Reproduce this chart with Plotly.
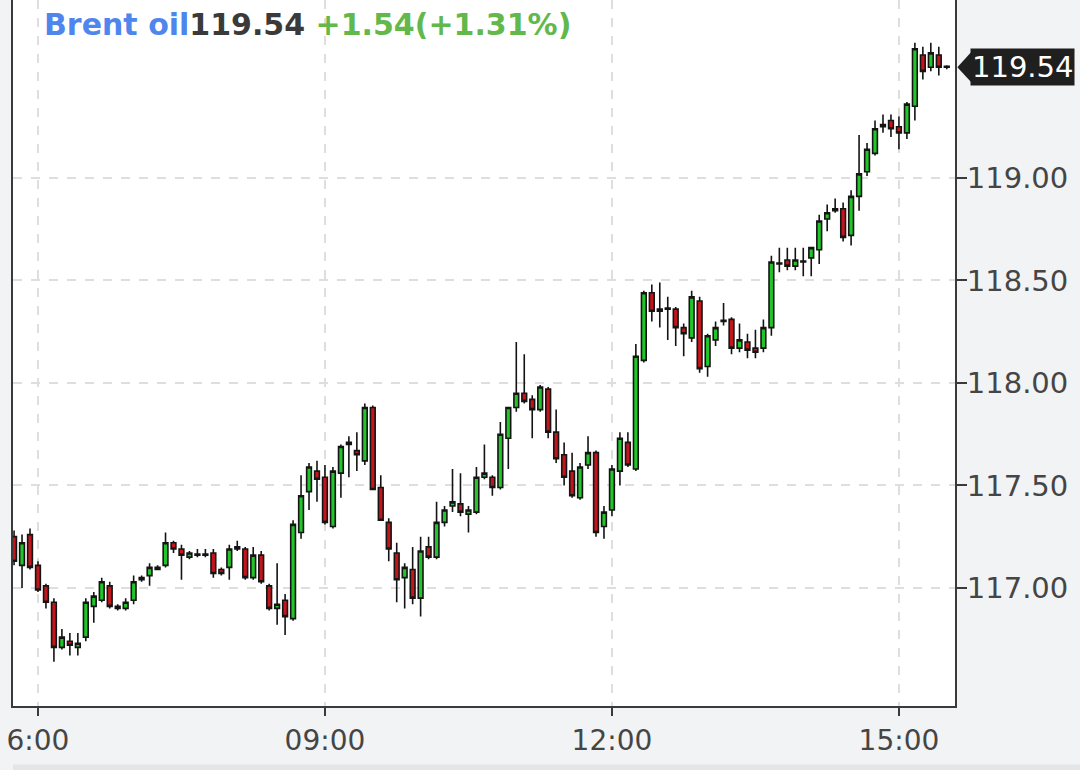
import pandas as pd
import plotly.graph_objects as go

# 5-minute candles, 05:45 .. 15:30
times = pd.date_range("2022-06-03 05:45", "2022-06-03 15:30", freq="5min")

opens = [
    117.25, 117.11, 117.26, 117.11, 117.01, 116.93, 116.71, 116.74, 116.71, 116.76,
    116.91, 116.94, 117.01, 116.91, 116.90, 116.94, 117.04, 117.06, 117.10, 117.11,
    117.22, 117.19, 117.15, 117.165, 117.165, 117.17, 117.09, 117.10, 117.20, 117.19,
    117.05, 117.16, 117.01, 116.90, 116.94, 116.85, 117.27, 117.47, 117.57, 117.54,
    117.30, 117.56, 117.71, 117.67, 117.62, 117.88, 117.49, 117.32, 117.17, 117.05,
    117.09, 116.95, 117.20, 117.15, 117.32, 117.40, 117.41, 117.36, 117.37, 117.54,
    117.54, 117.49, 117.73, 117.88, 117.95, 117.92, 117.87, 117.97, 117.76, 117.65,
    117.57, 117.44, 117.60, 117.66, 117.30, 117.38, 117.57, 117.71, 117.58, 118.11,
    118.44, 118.36, 118.365, 118.36, 118.27, 118.22, 118.40, 118.08, 118.21, 118.305,
    118.31, 118.17, 118.20, 118.17, 118.17, 118.27, 118.585, 118.60, 118.57, 118.595,
    118.61, 118.65, 118.80, 118.85, 118.85, 118.72, 118.91, 119.03, 119.12, 119.26,
    119.28, 119.25, 119.22, 119.35, 119.60, 119.54, 119.60, 119.545,
]
highs = [
    117.28, 117.26, 117.29, 117.13, 117.02, 116.95, 116.80, 116.78, 116.78, 116.95,
    116.98, 117.05, 117.03, 116.92, 116.95, 117.06, 117.06, 117.12, 117.11, 117.27,
    117.23, 117.21, 117.18, 117.19, 117.19, 117.19, 117.10, 117.21, 117.23, 117.20,
    117.20, 117.18, 117.02, 117.12, 116.97, 117.33, 117.55, 117.61, 117.62, 117.60,
    117.59, 117.70, 117.74, 117.76, 117.90, 117.89, 117.55, 117.34, 117.22, 117.12,
    117.20, 117.25, 117.25, 117.42, 117.40, 117.58, 117.56, 117.40, 117.59, 117.70,
    117.55, 117.81, 117.88, 118.20, 118.14, 117.94, 117.99, 117.98, 117.87, 117.71,
    117.66, 117.61, 117.74, 117.67, 117.40, 117.60, 117.76, 117.76, 118.19, 118.45,
    118.48, 118.49, 118.42, 118.37, 118.29, 118.45, 118.42, 118.24, 118.30, 118.39,
    118.32, 118.29, 118.24, 118.26, 118.31, 118.62, 118.66, 118.66, 118.66, 118.66,
    118.66, 118.82, 118.87, 118.90, 118.88, 118.94, 119.21, 119.17, 119.28, 119.31,
    119.31, 119.30, 119.37, 119.66, 119.64, 119.66, 119.64, 119.55,
]
lows = [
    117.11, 117.00, 117.09, 116.98, 116.90, 116.64, 116.70, 116.67, 116.67, 116.74,
    116.83, 116.93, 116.90, 116.89, 116.89, 116.92, 117.03, 117.01, 117.09, 117.10,
    117.17, 117.04, 117.14, 117.15, 117.15, 117.05, 117.06, 117.04, 117.18, 117.04,
    117.04, 117.02, 116.89, 116.82, 116.77, 116.84, 117.24, 117.38, 117.42, 117.31,
    117.29, 117.44, 117.54, 117.57, 117.60, 117.48, 117.33, 117.13, 116.93, 116.90,
    116.92, 116.86, 117.14, 117.14, 117.30, 117.37, 117.35, 117.27, 117.36, 117.53,
    117.45, 117.48, 117.58, 117.86, 117.90, 117.73, 117.86, 117.73, 117.61, 117.50,
    117.44, 117.43, 117.58, 117.25, 117.24, 117.35, 117.50, 117.59, 117.57, 118.10,
    118.30, 118.27, 118.21, 118.18, 118.13, 118.20, 118.05, 118.03, 118.18, 118.28,
    118.14, 118.15, 118.12, 118.12, 118.15, 118.23, 118.54, 118.55, 118.55, 118.52,
    118.52, 118.58, 118.74, 118.83, 118.69, 118.67, 118.84, 119.01, 119.11, 119.22,
    119.20, 119.14, 119.19, 119.28, 119.48, 119.52, 119.50, 119.53,
]
closes = [
    117.13, 117.22, 117.10, 116.99, 116.93, 116.71, 116.76, 116.72, 116.73, 116.93,
    116.96, 117.03, 116.91, 116.90, 116.93, 117.03, 117.05, 117.10, 117.09, 117.22,
    117.19, 117.16, 117.17, 117.16, 117.16, 117.07, 117.07, 117.19, 117.19, 117.05,
    117.16, 117.03, 116.90, 116.92, 116.86, 117.31, 117.45, 117.59, 117.53, 117.32,
    117.57, 117.69, 117.70, 117.65, 117.88, 117.48, 117.33, 117.19, 117.04, 117.10,
    116.95, 117.18, 117.15, 117.32, 117.38, 117.42, 117.37, 117.38, 117.54, 117.56,
    117.49, 117.75, 117.88, 117.95, 117.91, 117.87, 117.98, 117.76, 117.63, 117.54,
    117.45, 117.59, 117.66, 117.27, 117.37, 117.58, 117.73, 117.60, 118.13, 118.44,
    118.35, 118.35, 118.36, 118.27, 118.24, 118.42, 118.07, 118.23, 118.27, 118.30,
    118.17, 118.21, 118.16, 118.15, 118.27, 118.59, 118.58, 118.57, 118.60, 118.59,
    118.66, 118.79, 118.83, 118.84, 118.71, 118.91, 119.02, 119.14, 119.24, 119.25,
    119.24, 119.22, 119.36, 119.63, 119.52, 119.61, 119.54, 119.54,
]

name = "Brent oil"
last_price = "119.54"
change = "+1.54(+1.31%)"

x_tickvals = ["2022-06-03 06:00", "2022-06-03 09:00", "2022-06-03 12:00", "2022-06-03 15:00"]
x_ticktext = ["6:00", "09:00", "12:00", "15:00"]
y_tickvals = [117.0, 117.5, 118.0, 118.5, 119.0]
y_ticktext = ["117.00", "117.50", "118.00", "118.50", "119.00"]

fig = go.Figure(go.Candlestick(
    x=times, open=opens, high=highs, low=lows, close=closes,
    increasing=dict(fillcolor="#22c52a", line=dict(color="#141414", width=1.6)),
    decreasing=dict(fillcolor="#c3161c", line=dict(color="#141414", width=1.6)),
    whiskerwidth=0,
    showlegend=False,
))

font = "DejaVu Sans"

fig.update_layout(
    width=1080, height=770,
    margin=dict(l=13, r=125, t=0, b=64),
    paper_bgcolor="#f2f3f5",
    plot_bgcolor="#ffffff",
    boxgap=0.15,
    font=dict(family=font, size=29, color="#454545"),
    xaxis=dict(
        type="date",
        range=["2022-06-03 05:44:20", "2022-06-03 15:35:10"],
        rangeslider=dict(visible=False),
        tickvals=x_tickvals, ticktext=x_ticktext,
        tickfont=dict(family=font, size=28),
        showline=True, linecolor="#3a3a3a", linewidth=2,
        ticks="outside", ticklen=8, tickwidth=2, tickcolor="#3a3a3a",
        showgrid=True, gridcolor="#dedede", gridwidth=1.5, griddash="dash",
        zeroline=False, automargin=False,
    ),
    yaxis=dict(
        side="right",
        range=[116.424, 119.868],
        tickvals=y_tickvals, ticktext=y_ticktext,
        tickfont=dict(family=font, size=29),
        showline=True, mirror=True, linecolor="#3a3a3a", linewidth=2,
        ticks="outside", ticklen=10, tickwidth=2, tickcolor="#3a3a3a",
        ticklabelstandoff=-6,
        showgrid=True, gridcolor="#dedede", gridwidth=1.5, griddash="dash",
        zeroline=False, automargin=False,
    ),
)

# header line
fig.add_annotation(
    xref="paper", yref="paper", x=0.031, y=0.993, xanchor="left", yanchor="top",
    showarrow=False, font=dict(family=font, size=30),
    text=(f"<b><span style='color:#4f86ee'>{name}</span>"
          f"<span style='color:#3a3a3a'>{last_price}</span> "
          f"<span style='color:#62b84a'>{change}</span></b>"),
)

# last price tag on the right axis
lp = float(last_price)
fig.add_annotation(
    xref="paper", yref="y", x=1.016, y=lp, xanchor="left", yanchor="middle",
    showarrow=False, text=last_price, bgcolor="#1f1f1f", borderpad=1,
    font=dict(family=font, size=29, color="#ffffff"),
)
fig.add_shape(
    type="path", xref="paper", yref="y", fillcolor="#1f1f1f", line_width=0,
    path=f"M 1.0025,{lp} L 1.0175,{lp + 0.075} L 1.0175,{lp - 0.075} Z",
)

# scrollbar strip at bottom
fig.add_shape(type="rect", xref="paper", yref="paper", x0=0, x1=1.14, y0=-0.083, y1=-0.095,
              fillcolor="#e4e5e8", line_width=0, layer="below")

fig.write_html("out.html", config={"displayModeBar": False},
               post_script="document.body.style.margin='0px';")
